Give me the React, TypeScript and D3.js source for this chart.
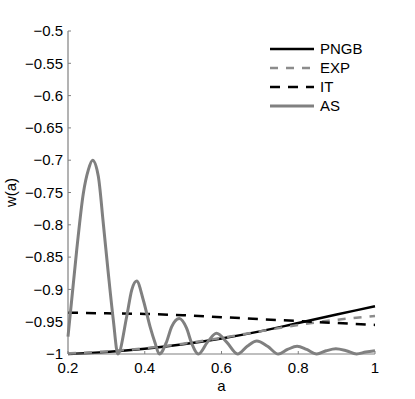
import React from "react";
import * as d3 from "d3";

const xTicks = [0.2, 0.4, 0.6, 0.8, 1];
const xTickLabels = ["0.2", "0.4", "0.6", "0.8", "1"];
const yTicks = [-1, -0.95, -0.9, -0.85, -0.8, -0.75, -0.7, -0.65, -0.6, -0.55, -0.5];
const yTickLabels = ["\u22121", "\u22120.95", "\u22120.9", "\u22120.85", "\u22120.8", "\u22120.75", "\u22120.7", "\u22120.65", "\u22120.6", "\u22120.55", "\u22120.5"];

const seriesNames = ["PNGB", "EXP", "IT", "AS"];

const aGrid = [0.2, 0.3, 0.4, 0.5, 0.6, 0.7, 0.8, 0.9, 1.0];
const pngbW = [-1.0, -0.997, -0.992, -0.985, -0.976, -0.965, -0.952, -0.939, -0.926];
const expW = [-0.999, -0.996, -0.991, -0.984, -0.975, -0.965, -0.955, -0.947, -0.941];
const itW = [-0.936, -0.937, -0.938, -0.940, -0.943, -0.946, -0.949, -0.952, -0.955];

const asA = [0.2, 0.2227, 0.24, 0.253, 0.264, 0.279, 0.292, 0.305, 0.318, 0.33,
  0.353, 0.366, 0.379, 0.396, 0.414, 0.427, 0.438,
  0.457, 0.47, 0.49, 0.509, 0.522, 0.54,
  0.563, 0.587, 0.614, 0.642,
  0.667, 0.692, 0.72, 0.748,
  0.772, 0.797, 0.822, 0.848,
  0.873, 0.898, 0.925, 0.952,
  0.976, 1.0];
const asW = [-0.973, -0.839, -0.751, -0.715, -0.7, -0.725, -0.798, -0.875, -0.947, -1.0,
  -0.942, -0.901, -0.887, -0.916, -0.958, -0.983, -1.0,
  -0.981, -0.958, -0.945, -0.96, -0.983, -1.0,
  -0.982, -0.968, -0.982, -1.0,
  -0.988, -0.98, -0.988, -1.0,
  -0.993, -0.988, -0.993, -1.0,
  -0.995, -0.992, -0.995, -1.0,
  -0.997, -0.995];

const W = 415, H = 399;
const left = 68, right = 375, top = 31, bottom = 354;
const FONT = "Liberation Sans, Arial, Helvetica, sans-serif";
const axisColor = "#808080";
const FS = 15;

export default function App() {
  const x = d3.scaleLinear().domain([0.2, 1]).range([left, right]);
  const y = d3.scaleLinear().domain([-1, -0.5]).range([bottom, top]);
  const line = d3.line<[number, number]>().x(d => x(d[0])).y(d => y(d[1])).curve(d3.curveMonotoneX);
  const zip = (a: number[], w: number[]) => a.map((v, i) => [v, w[i]] as [number, number]);

  const styles = [
    { stroke: "#000", width: 2.5, dash: undefined as string | undefined },
    { stroke: "#8c8c8c", width: 2.5, dash: "8,8" },
    { stroke: "#000", width: 2.5, dash: "10,8" },
    { stroke: "#808080", width: 3, dash: undefined as string | undefined },
  ];
  const datas = [zip(aGrid, pngbW), zip(aGrid, expW), zip(aGrid, itW), zip(asA, asW)];

  return (
    <svg width={W} height={H} style={{ position: "absolute", left: 0, top: 0, background: "#fff" }} fontFamily={FONT}>
      <rect x={0} y={0} width={W} height={H} fill="#fff" />
      {datas.map((d, i) => (
        <path key={i} d={line(d) || ""} fill="none" stroke={styles[i].stroke} strokeWidth={styles[i].width}
          strokeDasharray={styles[i].dash} strokeLinejoin="round" />
      ))}
      {/* axes */}
      <line x1={left} x2={left} y1={top} y2={bottom} stroke={axisColor} strokeWidth={1.2} />
      <line x1={left} x2={right} y1={bottom} y2={bottom} stroke={axisColor} strokeWidth={1.2} />
      {yTicks.map((t, i) => (
        <g key={"y" + i}>
          <line x1={left} x2={left + 3} y1={y(t)} y2={y(t)} stroke={axisColor} />
          <text x={left - 5} y={y(t)} dy="0.35em" textAnchor="end" fontSize={FS} fill="#000">{yTickLabels[i]}</text>
        </g>
      ))}
      {xTicks.map((t, i) => (
        <g key={"x" + i}>
          <line x1={x(t)} x2={x(t)} y1={bottom} y2={bottom - 3} stroke={axisColor} />
          <text x={x(t)} y={bottom + 19} textAnchor="middle" fontSize={FS} fill="#000">{xTickLabels[i]}</text>
        </g>
      ))}
      <text x={(left + right) / 2} y={391} textAnchor="middle" fontSize={FS} fill="#000">a</text>
      <text transform={`translate(16,${(top + bottom) / 2}) rotate(-90)`} textAnchor="middle" fontSize={FS} fill="#000">w(a)</text>
      {/* legend */}
      {seriesNames.map((n, i) => {
        const ly = 49 + i * 19;
        return (
          <g key={"l" + i}>
            <line x1={270} x2={314} y1={ly} y2={ly} stroke={styles[i].stroke} strokeWidth={styles[i].width}
              strokeDasharray={styles[i].dash} />
            <text x={320} y={ly} dy="0.36em" fontSize={FS} fill="#000">{n}</text>
          </g>
        );
      })}
    </svg>
  );
}
